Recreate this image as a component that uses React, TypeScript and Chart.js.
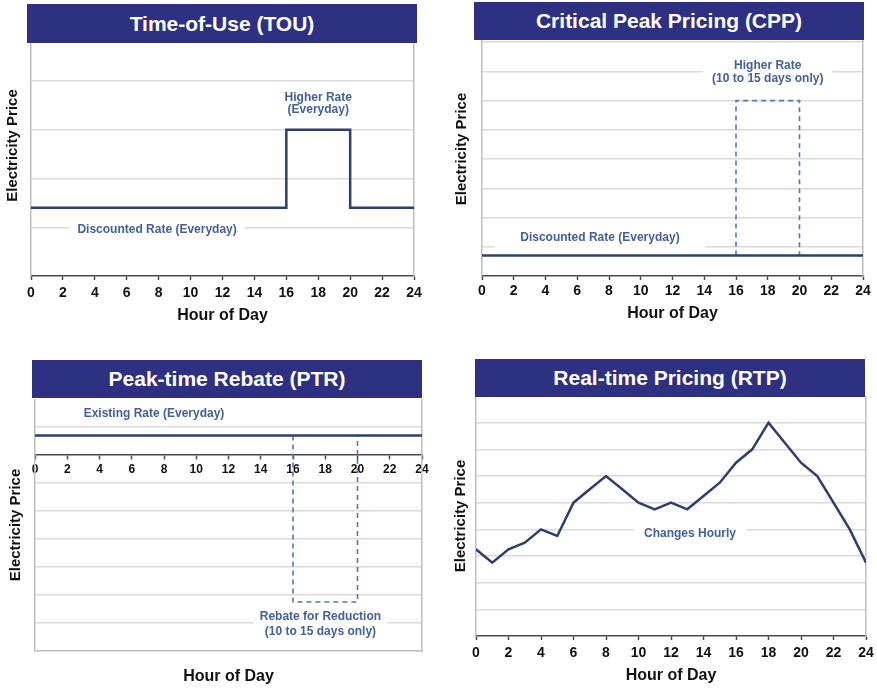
import React, { useEffect, useRef } from "react";
import { Chart, registerables } from "chart.js";

Chart.register(...registerables);

const FONT = "'Liberation Sans', Arial, Helvetica, sans-serif";
Chart.defaults.font.family = FONT;

// ---------- data ----------
const HOUR_TICKS = [0, 2, 4, 6, 8, 10, 12, 14, 16, 18, 20, 22, 24];

const touHours = [0, 16, 16, 20, 20, 24];
const touPrice = [1.4, 1.4, 3, 3, 1.4, 1.4];

const cppBaseHours = [0, 24];
const cppBasePrice = [0.7, 0.7];
const cppPeakHours = [16, 16, 20, 20];
const cppPeakPrice = [0.7, 6, 6, 0.7];

const ptrBaseHours = [0, 24];
const ptrBasePrice = [0.7, 0.7];
const ptrRebateHours = [16, 16, 20, 20];
const ptrRebatePrice = [0.7, -5.25, -5.25, 0.7];

const rtpHours = [0, 1, 2, 3, 4, 5, 6, 7, 8, 9, 10, 11, 12, 13, 14, 15, 16, 17, 18, 19, 20, 21, 22, 23, 24];
const rtpPrice = [3.25, 2.75, 3.25, 3.5, 4.0, 3.75, 5.0, 5.5, 6.0, 5.5, 5.0, 4.75, 5.0, 4.75, 5.25, 5.75, 6.5, 7.0, 8.0, 7.25, 6.5, 6.0, 5.0, 4.0, 2.75];

const touGrid = [1, 2, 3, 4];
const cppGrid = [1, 2, 3, 4, 5, 6, 7, 8];
const ptrGrid = [-6, -5, -4, -3, -2, -1, 1];
const rtpGrid = [1, 2, 3, 4, 5, 6, 7, 8];

const touNotes = [
  { hour: 18, price: 3.53, lines: ["Higher Rate", "(Everyday)"] },
  { hour: 7.9, price: 0.94, lines: ["Discounted Rate (Everyday)"] },
];
const cppNotes = [
  { hour: 18, price: 6.96, lines: ["Higher Rate", "(10 to 15 days only)"] },
  { hour: 7.43, price: 1.3, lines: ["Discounted Rate (Everyday)"] },
];
const ptrNotes = [
  { hour: 7.38, price: 1.49, lines: ["Existing Rate (Everyday)"] },
  { hour: 17.7, price: -6.05, lines: ["Rebate for Reduction", "(10 to 15 days only)"] },
];
const rtpNotes = [{ hour: 13.17, price: 3.85, lines: ["Changes Hourly"] }];

// ---------- styles ----------
const TITLE_BG = "#2E3182";
const LINE = "#2D3F6C";
const DASH = "#5577B0";
const NOTE = "#44609A";
const GRID = "#DADADA";
const FRAME = "#BEBEBE";
const AXIS = "#4A4A4A";
const TEXT = "#111111";

type Series = { hours: number[]; price: number[]; dashed?: boolean };
type Note = { hour: number; price: number; lines: string[] };
type NoteStyle = { lh: number; padX: number; padY: number };

type Spec = {
  title: string;
  bar: { left: number; top: number; width: number; height: number };
  canvas: { left: number; top: number; width: number; height: number };
  yW: number;
  xH: number;
  rightW: number;
  yMin: number;
  yMax: number;
  grid: number[];
  tickSize: number;
  tickPad: number;
  centerAxis?: boolean;
  series: Series[];
  notes: Note[];
  noteStyles: NoteStyle[];
};

const specs: Spec[] = [
  {
    title: "Time-of-Use (TOU)",
    bar: { left: 27, top: 4, width: 390, height: 39 },
    canvas: { left: 4, top: 15, width: 426, height: 310 },
    yW: 27, xH: 49, rightW: 16,
    yMin: 0, yMax: 5.354, grid: touGrid,
    tickSize: 14, tickPad: 5,
    series: [{ hours: touHours, price: touPrice }],
    notes: touNotes,
    noteStyles: [{ lh: 12.5, padX: 4, padY: 2 }, { lh: 13, padX: 8, padY: 3 }],
  },
  {
    title: "Critical Peak Pricing (CPP)",
    bar: { left: 474, top: 2, width: 390, height: 38 },
    canvas: { left: 453, top: 22, width: 426, height: 301 },
    yW: 29, xH: 47, rightW: 16,
    yMin: 0, yMax: 8.69, grid: cppGrid,
    tickSize: 14, tickPad: 3,
    series: [
      { hours: cppBaseHours, price: cppBasePrice },
      { hours: cppPeakHours, price: cppPeakPrice, dashed: true },
    ],
    notes: cppNotes,
    noteStyles: [{ lh: 13, padX: 9, padY: 2 }, { lh: 13, padX: 26, padY: 5 }],
  },
  {
    title: "Peak-time Rebate (PTR)",
    bar: { left: 32, top: 360, width: 390, height: 38 },
    canvas: { left: 7, top: 399, width: 431, height: 287 },
    yW: 28, xH: 35, rightW: 16,
    yMin: -7, yMax: 2, grid: ptrGrid,
    tickSize: 12, tickPad: 3,
    centerAxis: true,
    series: [
      { hours: ptrBaseHours, price: ptrBasePrice },
      { hours: ptrRebateHours, price: ptrRebatePrice, dashed: true },
    ],
    notes: ptrNotes,
    noteStyles: [{ lh: 13, padX: 2, padY: 1 }, { lh: 15, padX: 6, padY: 2 }],
  },
  {
    title: "Real-time Pricing (RTP)",
    bar: { left: 475, top: 359, width: 390, height: 38 },
    canvas: { left: 452, top: 396, width: 430, height: 289 },
    yW: 24, xH: 49, rightW: 16,
    yMin: 0, yMax: 9, grid: rtpGrid,
    tickSize: 14, tickPad: 5,
    series: [{ hours: rtpHours, price: rtpPrice }],
    notes: rtpNotes,
    noteStyles: [{ lh: 13, padX: 10, padY: 3 }],
  },
];

function makeNotesPlugin(notes: Note[], styles: NoteStyle[]) {
  return {
    id: "notes",
    beforeDatasetsDraw(chart: any) {
      const { ctx } = chart;
      const x = chart.scales.x;
      const y = chart.scales.y;
      ctx.save();
      ctx.font = `bold 12px ${FONT}`;
      notes.forEach((n, k) => {
        const st = styles[k];
        const cx = x.getPixelForValue(n.hour);
        const cy = y.getPixelForValue(n.price);
        const w = Math.max(...n.lines.map((l) => ctx.measureText(l).width));
        const h = n.lines.length * st.lh;
        ctx.fillStyle = "#ffffff";
        ctx.fillRect(cx - w / 2 - st.padX, cy - h / 2 - st.padY, w + 2 * st.padX, h + 2 * st.padY);
        ctx.fillStyle = NOTE;
        ctx.textAlign = "center";
        ctx.textBaseline = "middle";
        n.lines.forEach((l, i) => {
          ctx.fillText(l, cx, cy - h / 2 + st.lh * (i + 0.5));
        });
      });
      ctx.restore();
    },
  };
}

function buildConfig(s: Spec): any {
  const datasets = s.series.map((se) => ({
    data: se.hours.map((h, i) => ({ x: h, y: se.price[i] })),
    borderColor: se.dashed ? DASH : LINE,
    borderWidth: se.dashed ? 1.6 : 2.5,
    borderDash: se.dashed ? [5, 4] : [],
    pointRadius: 0,
    pointHoverRadius: 0,
    fill: false,
    tension: 0,
    xAxisID: "x",
    yAxisID: "y",
  }));

  const hourTitle = {
    display: true,
    text: "Hour of Day",
    font: { size: 16, weight: "bold", family: FONT },
    color: TEXT,
    padding: 0,
  };

  const scales: any = {
    x: {
      type: "linear",
      min: 0,
      max: 24,
      position: s.centerAxis ? { y: 0 } : "bottom",
      afterBuildTicks: (a: any) => {
        a.ticks = HOUR_TICKS.map((v) => ({ value: v }));
      },
      ticks: {
        font: { size: s.tickSize, weight: "bold", family: FONT },
        color: TEXT,
        padding: s.tickPad,
        maxRotation: 0,
        autoSkip: false,
      },
      grid: { drawOnChartArea: false, drawTicks: true, tickLength: 4, tickColor: AXIS, tickWidth: 1.5 },
      border: { color: AXIS, width: 1.5 },
      title: s.centerAxis ? { display: false } : hourTitle,
    },
    y: {
      type: "linear",
      min: s.yMin,
      max: s.yMax,
      afterBuildTicks: (a: any) => {
        a.ticks = s.grid.map((v) => ({ value: v }));
      },
      ticks: { display: false },
      grid: { color: GRID, lineWidth: 1.5, drawTicks: false },
      border: { display: true, color: FRAME, width: 1.5 },
      title: {
        display: true,
        text: "Electricity Price",
        font: { size: 15, weight: "bold", family: FONT },
        color: TEXT,
        padding: 0,
      },
      afterFit: (a: any) => {
        a.width = s.yW;
      },
    },
    yr: {
      type: "linear",
      position: "right",
      ticks: { display: false },
      grid: { drawOnChartArea: false, drawTicks: false },
      border: { display: true, color: FRAME, width: 1.5 },
      afterFit: (a: any) => {
        a.width = s.rightW;
      },
    },
  };

  if (!s.centerAxis) {
    scales.x.afterFit = (a: any) => {
      a.height = s.xH;
    };
  } else {
    scales.x2 = {
      type: "linear",
      position: "bottom",
      min: 0,
      max: 24,
      ticks: { display: false },
      grid: { drawOnChartArea: false, drawTicks: false },
      border: { display: true, color: FRAME, width: 1.5 },
      title: hourTitle,
      afterFit: (a: any) => {
        a.height = s.xH;
      },
    };
  }

  return {
    type: "line",
    data: { datasets },
    options: {
      responsive: false,
      maintainAspectRatio: false,
      animation: false,
      events: [],
      layout: { padding: 0 },
      plugins: {
        legend: { display: false },
        tooltip: { enabled: false },
        title: { display: false },
      },
      scales,
    },
    plugins: [makeNotesPlugin(s.notes, s.noteStyles)],
  };
}

function Panel({ spec }: { spec: Spec }) {
  const ref = useRef<HTMLCanvasElement | null>(null);
  useEffect(() => {
    if (!ref.current) return;
    const chart = new Chart(ref.current, buildConfig(spec));
    return () => chart.destroy();
  }, [spec]);
  return (
    <>
      <canvas
        ref={ref}
        width={spec.canvas.width}
        height={spec.canvas.height}
        style={{
          position: "absolute",
          left: spec.canvas.left,
          top: spec.canvas.top,
          width: spec.canvas.width,
          height: spec.canvas.height,
          zIndex: 1,
        }}
      />
      <div
        style={{
          position: "absolute",
          left: spec.bar.left,
          top: spec.bar.top,
          width: spec.bar.width,
          height: spec.bar.height,
          background: TITLE_BG,
          color: "#ffffff",
          font: `bold 21px ${FONT}`,
          display: "flex",
          alignItems: "center",
          justifyContent: "center",
          zIndex: 2,
          whiteSpace: "nowrap",
        }}
      >
        {spec.title}
      </div>
    </>
  );
}

export default function App() {
  return (
    <div
      style={{
        position: "absolute",
        left: 0,
        top: 0,
        width: 877,
        height: 688,
        overflow: "hidden",
        background: "#ffffff",
      }}
    >
      {specs.map((s) => (
        <Panel key={s.title} spec={s} />
      ))}
    </div>
  );
}
